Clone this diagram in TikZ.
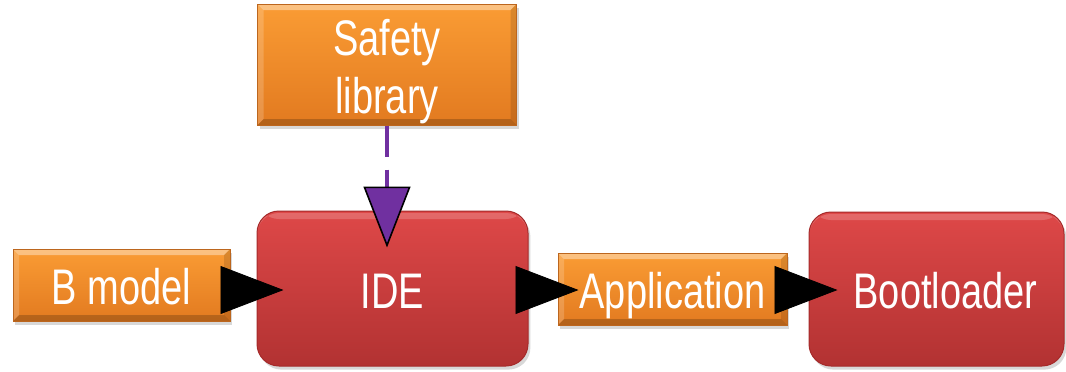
\documentclass[tikz,border=0pt]{standalone}
\usepackage{fontspec}
\newfontfamily\labelfont[FakeStretch=0.76]{Liberation Sans}
\usetikzlibrary{arrows.meta,shadows}

\definecolor{orTop}{RGB}{250,156,52}
\definecolor{orBot}{RGB}{226,122,32}
\definecolor{orEdge}{RGB}{188,102,30}
\definecolor{rdTop}{RGB}{222,72,72}
\definecolor{rdBot}{RGB}{178,50,50}
\definecolor{rdEdge}{RGB}{165,42,42}
\definecolor{linkPurple}{RGB}{112,48,160}

\tikzset{
  boxtext/.style={text=white,font=\labelfont\fontsize{25pt}{29pt}\selectfont,
    align=center,inner sep=0pt,text height=19.5pt,text depth=0pt},
  softshadow/.style={drop shadow={shadow xshift=1.2pt,shadow yshift=-1.8pt,
    opacity=0.22,fill=black!70}},
  orangebox/.style={boxtext,softshadow,draw=orEdge,line width=0.5pt,
    top color=orTop,bottom color=orBot,
    path picture={
      \fill[white,opacity=0.38] (path picture bounding box.north west) --
        (path picture bounding box.north east) --
        ([xshift=-3pt,yshift=-3pt]path picture bounding box.north east) --
        ([xshift=3pt,yshift=-3pt]path picture bounding box.north west) -- cycle;
      \fill[white,opacity=0.18] (path picture bounding box.north west) --
        ([xshift=3pt,yshift=-3pt]path picture bounding box.north west) --
        ([xshift=3pt,yshift=3pt]path picture bounding box.south west) --
        (path picture bounding box.south west) -- cycle;
      \fill[black,opacity=0.12] (path picture bounding box.north east) --
        ([xshift=-3pt,yshift=-3pt]path picture bounding box.north east) --
        ([xshift=-3pt,yshift=3pt]path picture bounding box.south east) --
        (path picture bounding box.south east) -- cycle;
      \fill[black,opacity=0.2] (path picture bounding box.south west) --
        ([xshift=3pt,yshift=3pt]path picture bounding box.south west) --
        ([xshift=-3pt,yshift=3pt]path picture bounding box.south east) --
        (path picture bounding box.south east) -- cycle;
    }},
  redbox/.style={boxtext,softshadow,draw=rdEdge,line width=0.5pt,
    rounded corners=11pt,top color=rdTop,bottom color=rdBot,
    path picture={
      \fill[white,opacity=0.18] ([yshift=-1pt]path picture bounding box.north west)
        rectangle ([yshift=-4pt]path picture bounding box.north east);
    }},
  flow/.style={line width=0.4pt,
    -{Triangle[length=31.5pt,width=24pt,line width=0.4pt]}},
  uses/.style={linkPurple,line width=2pt,dash pattern=on 15.5pt off 6.5pt,
    -{Triangle[length=30.5pt,width=23.5pt,line width=0.8pt,
      color=black,fill=linkPurple]}}
}

\begin{document}
\begin{tikzpicture}[x=0.5pt,y=-0.5pt]
  \useasboundingbox (0,0) rectangle (1066,371);

  % boxes
  \node[orangebox,minimum width=129.5pt,minimum height=60.5pt,text height=48.5pt]
    (lib) at (387,64.5) {Safety\\library};
  \node[orangebox,minimum width=108.5pt,minimum height=36pt]
    (bm) at (121.5,285) {B model};
  \node[redbox,minimum width=135.5pt,minimum height=77.5pt]
    (ide) at (392.5,288.5) {IDE};
  \node[orangebox,minimum width=114.5pt,minimum height=36pt]
    (app) at (672.5,289) {Application};
  \node[redbox,minimum width=127.5pt,minimum height=77pt]
    (boot) at (936.5,289) {\kern9pt Bootloader};

  % connectors
  \draw[uses] (lib.south) -- ([xshift=-2.75pt,yshift=-18.5pt]ide.north);
  \draw[flow] ([xshift=-4.5pt,yshift=-2.5pt]bm.east) -- ([xshift=13.5pt,yshift=-0.75pt]ide.west);
  \draw[flow] ([xshift=-6.5pt,yshift=-0.75pt]ide.east) -- ([xshift=10.5pt,yshift=-0.5pt]app.west);
  \draw[flow] ([xshift=-6.5pt,yshift=-0.5pt]app.east) -- ([xshift=14.5pt,yshift=-0.5pt]boot.west);
\end{tikzpicture}
\end{document}
